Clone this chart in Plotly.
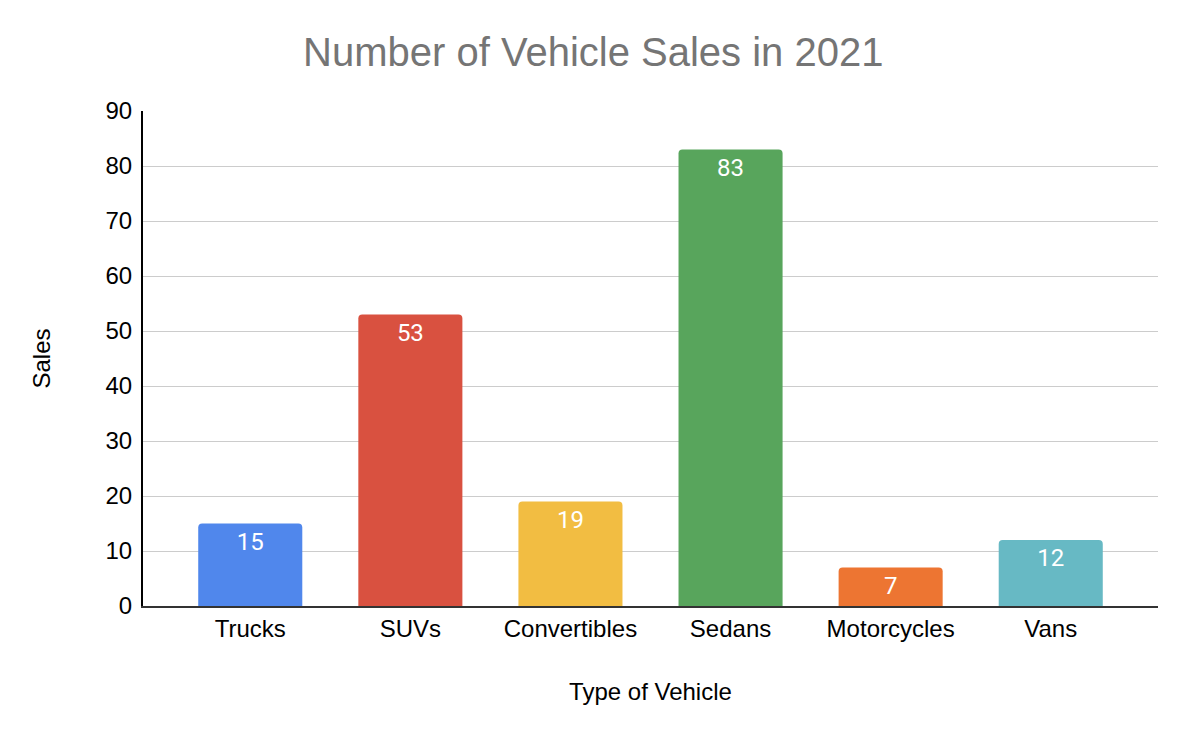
import plotly.graph_objects as go

categories = ["Trucks", "SUVs", "Convertibles", "Sedans", "Motorcycles", "Vans"]
sales = [15, 53, 19, 83, 7, 12]
colors = ["#5087ec", "#d95140", "#f2bd42", "#58a55c", "#ed7532", "#67b9c4"]
y_ticks = [0, 10, 20, 30, 40, 50, 60, 70, 80, 90]

FONT = "Liberation Sans, Arial"

fig = go.Figure(go.Bar(
    x=categories, y=sales,
    marker=dict(color=colors, line=dict(width=0)),
    width=0.65,
    text=[str(v) for v in sales],
    textposition="inside", insidetextanchor="end",
    textangle=0,
    textfont=dict(family="Roboto", size=24, color="white"),
    hoverinfo="x+y",
))

fig.update_layout(
    width=1192, height=738,
    paper_bgcolor="white", plot_bgcolor="white",
    margin=dict(l=135, r=42, t=103, b=140),
    barcornerradius=4,
    title=dict(text="Number of Vehicle Sales in 2021", x=0.491, xanchor="center",
               xref="container",
               y=1 - 44 / 738, yanchor="middle",
               font=dict(family=FONT, size=40, color="#757575")),
    showlegend=False,
    uniformtext=dict(mode=False),
)
fig.update_xaxes(
    range=[-0.67, 5.67], showgrid=False,
    showline=True, linecolor="#333333", linewidth=2,
    ticks="", tickfont=dict(family=FONT, size=24, color="#000000"),
    title=dict(text="Type of Vehicle", standoff=42,
               font=dict(family=FONT, size=24, color="#000000")),
)
fig.update_yaxes(
    range=[0, 90], tickvals=y_ticks, showgrid=True, gridcolor="#cccccc", gridwidth=1,
    showline=True, linecolor="#000000", linewidth=2, zeroline=False,
    ticks="", ticklabelstandoff=4,
    tickfont=dict(family=FONT, size=24, color="#000000"),
    title=dict(text="Sales", standoff=48,
               font=dict(family=FONT, size=24, color="#000000")),
)

fig.write_html("out.html")
